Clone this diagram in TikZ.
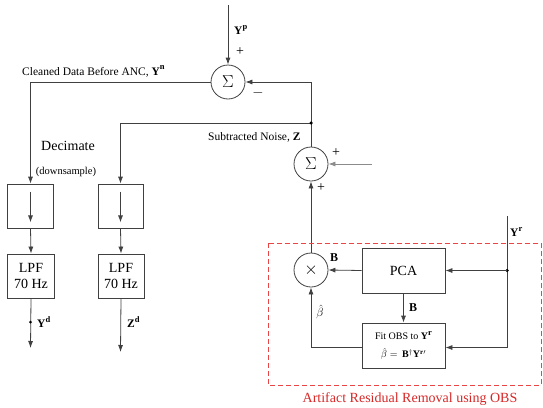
\documentclass[tikz,border=0pt]{standalone}
\usepackage{fontspec}
\setmainfont{Liberation Serif}
\usetikzlibrary{arrows.meta}
\definecolor{dashred}{RGB}{232,70,70}
\definecolor{textred}{RGB}{215,40,40}
\newcommand\myup[1]{\raisebox{0.45em}{\fontsize{8.5}{8.5}\selectfont\bfseries #1}}
\begin{document}
\begin{tikzpicture}[x=1pt,y=-1pt,
  line/.style={draw=black!75, line width=0.8pt},
  arr/.style={line, -{Latex[length=7pt,width=5pt]}},
  sumnode/.style={circle, draw=black!75, line width=0.8pt, minimum size=34pt, inner sep=0pt, font=\fontsize{18}{18}\selectfont},
  blk/.style={draw=black!75, line width=0.8pt, rectangle, inner sep=0pt},
  big/.style={font=\fontsize{14}{16}\selectfont},
  lbl/.style={font=\fontsize{11.5}{13}\selectfont, inner sep=1pt},
  sgn/.style={font=\fontsize{14}{14}\selectfont, inner sep=0pt},
  dotn/.style={circle, fill=black, inner sep=0pt, minimum size=3.5pt}]
\useasboundingbox (0,0) rectangle (543,407);

% summing / product nodes
\node[sumnode] (s1) at (228,82) {$\Sigma$};
\node[sumnode] (s2) at (311,164) {$\Sigma$};
\node[sumnode] (mx) at (311,270) {$\times$};

% blocks
\node[blk, big, minimum width=83pt, minimum height=45pt] (pca) at (403.5,270.5) {PCA};
\node[blk, minimum width=83pt, minimum height=45pt, align=center, font=\fontsize{10}{18}\selectfont] (fit) at (403.5,345.5)
  {Fit OBS to \textbf{Y}\myup{r}\\ $\hat{\beta}=\,\mathbf{B}^{\dagger}\mathbf{Y}^{\mathbf{r}\prime}$};
\node[blk, minimum width=46pt, minimum height=44pt] (d1) at (30.5,206) {};
\node[blk, minimum width=45pt, minimum height=44pt] (d2) at (120.5,206) {};
\node[blk, big, minimum width=47pt, minimum height=44pt, align=center] (l1) at (31,276) {LPF\\70 Hz};
\node[blk, big, minimum width=46pt, minimum height=44pt, align=center] (l2) at (121,276) {LPF\\70 Hz};

% coordinates
\coordinate (yp) at (228,5);
\coordinate (j1) at (311,123);
\coordinate (nin) at (372,164);
\coordinate (yrt) at (507,216);
\coordinate (yrb) at (507,347.5);
\coordinate (j2) at (507,270.5);
\coordinate (yd) at (30.5,348);
\coordinate (zd) at (120.5,352);

% connectors
\draw[arr] (yp) -- (s1.north);
\draw[arr] (s1.west) -| (d1.north);
\draw[arr] (j1) |- (s1.east);
\draw[arr] (j1) -| (d2.north);
\draw[line] (s2.north) -- (j1);
\node[dotn] at (j1) {};
\draw[arr] (mx.north) -- (s2.south);
\draw[arr, draw=black!45] (nin) -- (s2.east);
\draw[arr] (pca.west) -- (mx.east);
\draw[arr] (pca.south) -- (fit.north);
\draw[line] (yrt) -- (yrb);
\node[dotn] at (j2) {};
\draw[arr] (j2) -- (pca.east);
\draw[arr] (yrb) -- (yrb -| fit.east);
\draw[arr] (yrb -| fit.west) -| (mx.south);

\draw[arr] ([yshift=-8pt]d1.north) -- ([yshift=6pt]d1.south);
\draw[arr] ([yshift=-8pt]d2.north) -- ([yshift=6pt]d2.south);
\draw[arr] (d1.south) -- (l1.north);
\draw[arr] (d2.south) -- (l2.north);
\draw[arr] (l1.south) -- (yd);
\draw[arr] (l2.south) -- (zd);
\node[dotn, minimum size=3pt] at (30.5,322) {};

% labels
\node[lbl, anchor=base west] at (21,75) {Cleaned Data Before ANC, \textbf{Y}\myup{n}};
\node[lbl, anchor=west] at (233,30) {\textbf{Y}\myup{p}};
\node[sgn] at (240,52) {+};
\node[sgn] at (258,93) {$-$};
\node[lbl, anchor=base west] at (207,140) {Subtracted Noise, \textbf{Z}};
\node[sgn] at (336,153) {+};
\node[sgn] at (321,188) {+};
\node[big, inner sep=0pt] at (68,146) {Decimate};
\node[font=\fontsize{10.5}{12}\selectfont, inner sep=0pt] at (66,172) {(downsample)};
\node[lbl, font=\fontsize{12}{13}\selectfont\bfseries] at (334,258) {B};
\node[lbl, font=\fontsize{12}{13}\selectfont\bfseries] at (413,308) {B};
\node[lbl, font=\fontsize{12}{13}\selectfont] at (320,312) {$\hat{\beta}$};
\node[lbl, anchor=west] at (509,232) {\textbf{Y}\myup{r}};
\node[lbl, anchor=west] at (36,322) {\textbf{Y}\myup{d}};
\node[lbl, anchor=west] at (126,322) {\textbf{Z}\myup{d}};

% dashed region
\draw[dashred, line width=0.9pt, dash pattern=on 5pt off 3pt] (268,243) rectangle (541,385);
\node[big, text=textred, inner sep=0pt] at (410,399) {Artifact Residual Removal using OBS};
\end{tikzpicture}
\end{document}
